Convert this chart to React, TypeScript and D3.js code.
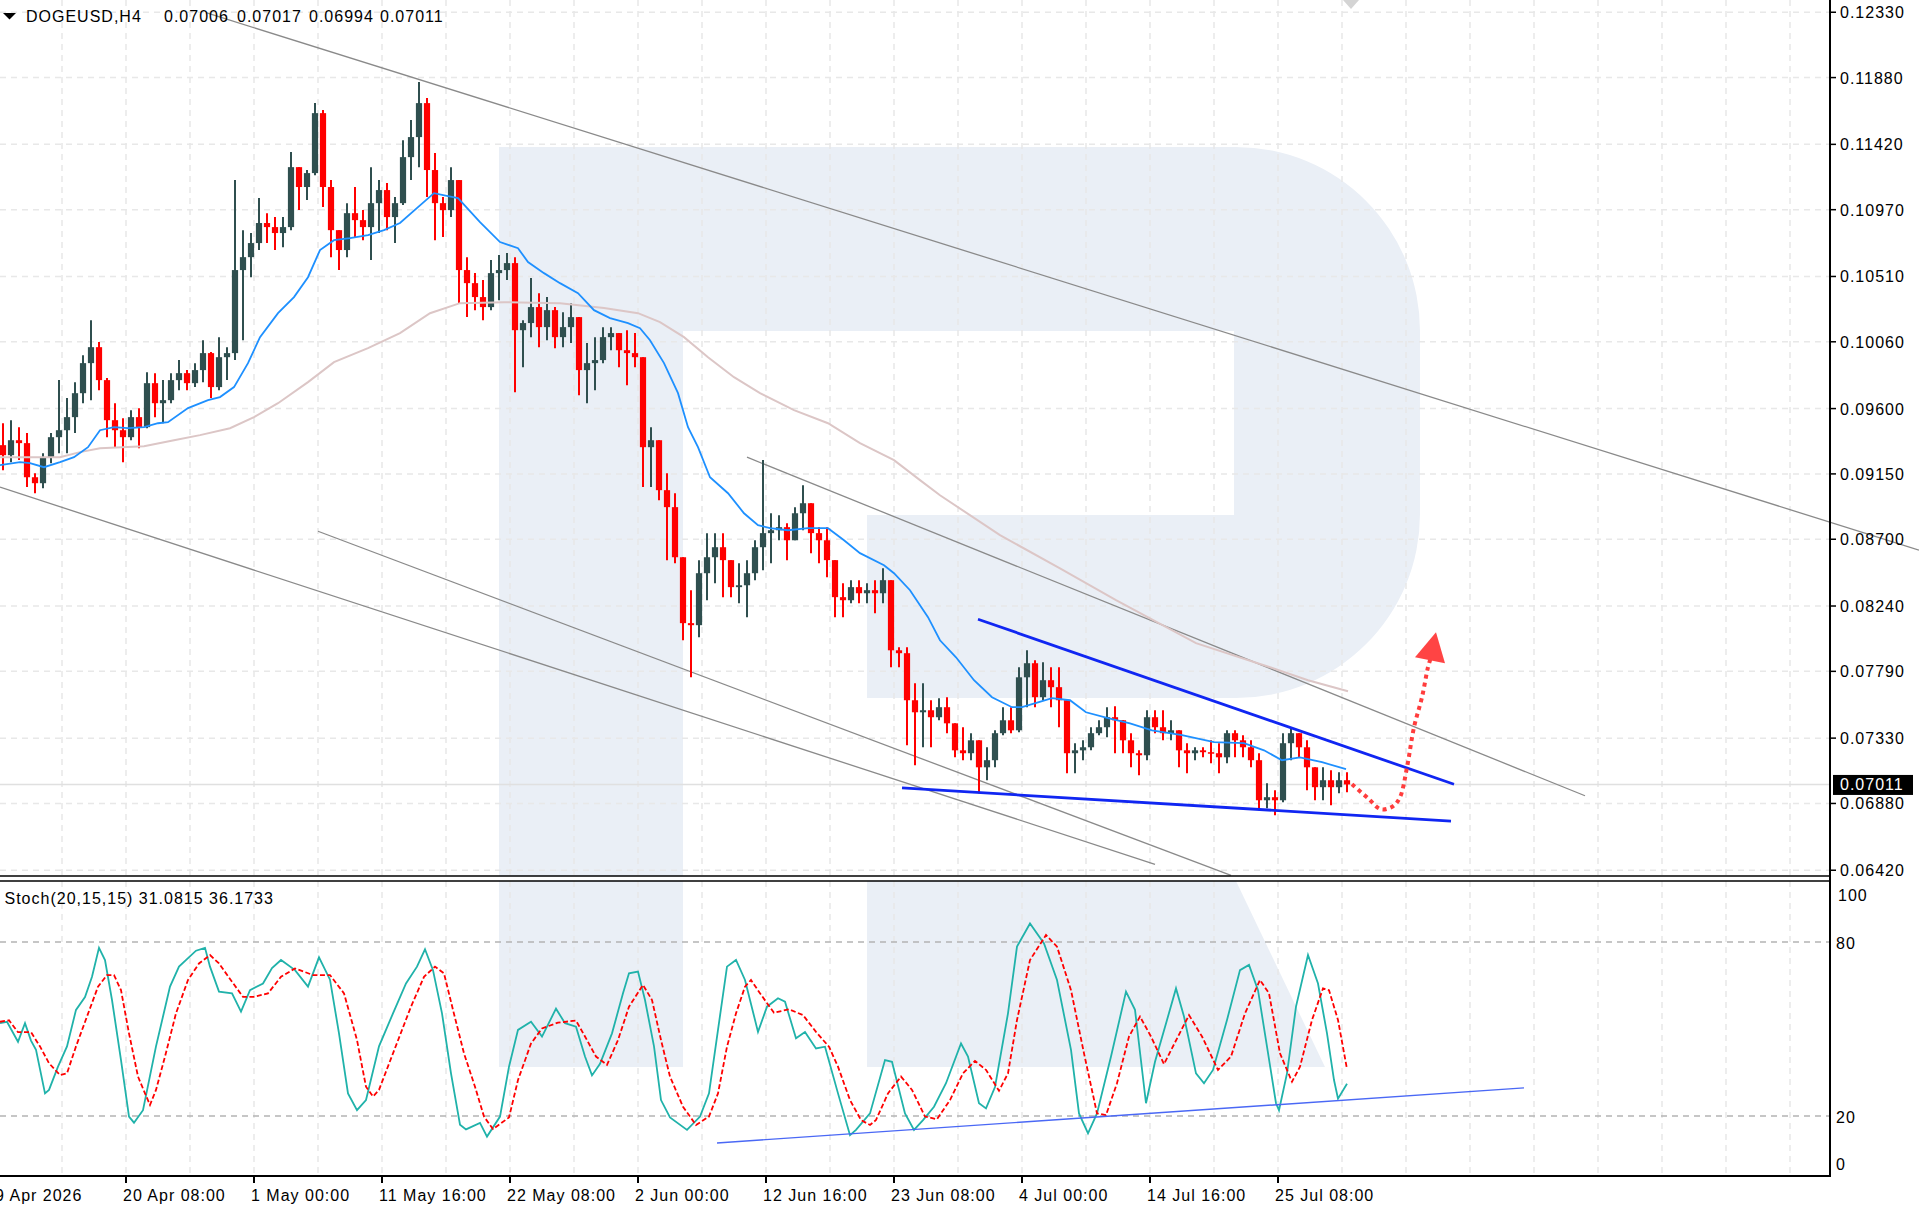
import React from "react";
import * as d3 from "d3";

// DOGEUSD H4. Prices are in points (1 point = 0.00001).
const POINT = 0.00001;

// every row merges 4 consecutive H4 bars: [open, high, low, close]
const CANDLE_SPAN = 4;
const candles: number[][] = [
  [9348, 9499, 9176, 9279], [9279, 9520, 9231, 9382], [9382, 9472, 9245, 9362], [9362, 9431, 9059, 9127],
  [9127, 9155, 9017, 9086], [9086, 9293, 9052, 9265], [9265, 9431, 9224, 9403], [9403, 9796, 9293, 9451],
  [9451, 9672, 9293, 9541], [9541, 9782, 9431, 9706], [9706, 9968, 9637, 9913], [9913, 10209, 9658, 10023],
  [10023, 10058, 9727, 9796], [9796, 9810, 9403, 9520], [9520, 9637, 9334, 9451], [9451, 9534, 9231, 9403],
  [9403, 9589, 9382, 9541], [9541, 9603, 9327, 9472], [9472, 9851, 9465, 9775], [9775, 9844, 9541, 9637],
  [9637, 9796, 9499, 9658], [9658, 9844, 9637, 9796], [9796, 9934, 9727, 9844], [9844, 9865, 9727, 9775],
  [9775, 9913, 9748, 9865], [9865, 10071, 9782, 9982], [9982, 9989, 9672, 9748], [9748, 10092, 9727, 9954],
  [9954, 10023, 9796, 9982], [9982, 11174, 9934, 10554], [10554, 10829, 10071, 10643], [10643, 10809, 10505, 10740],
  [10740, 11050, 10692, 10878], [10878, 10946, 10740, 10850], [10850, 10919, 10692, 10809], [10809, 10919, 10712, 10850],
  [10850, 11367, 10829, 11263], [11263, 11263, 10967, 11126], [11126, 11243, 11036, 11222], [11222, 11704, 11208, 11635],
  [11635, 11656, 10988, 11126], [11126, 11174, 10643, 10829], [10829, 10829, 10554, 10692], [10692, 11015, 10643, 10946],
  [10946, 11126, 10781, 10898], [10898, 10967, 10760, 10850], [10850, 11263, 10623, 11015], [11015, 11174, 10809, 11105],
  [11105, 11153, 10829, 10919], [10919, 11057, 10740, 11015], [11015, 11449, 11002, 11332], [11332, 11587, 11174, 11470],
  [11470, 11849, 11263, 11704], [11704, 11739, 11057, 11243], [11243, 11360, 10760, 11015], [11015, 11057, 10781, 10967],
  [10967, 11263, 10919, 11174], [11174, 11174, 10326, 10554], [10554, 10643, 10230, 10464], [10464, 10533, 10278, 10368],
  [10368, 10485, 10209, 10299], [10299, 10623, 10278, 10533], [10533, 10657, 10347, 10554], [10554, 10671, 10485, 10602],
  [10602, 10643, 9713, 10140], [10140, 10209, 9885, 10189], [10189, 10499, 10092, 10299], [10299, 10395, 10023, 10161],
  [10161, 10368, 10071, 10278], [10278, 10299, 10016, 10092], [10092, 10264, 10023, 10161], [10161, 10326, 10051, 10230],
  [10230, 10230, 9692, 9865], [9865, 10051, 9637, 9913], [9913, 10092, 9727, 9934], [9934, 10161, 9913, 10092],
  [10092, 10161, 10002, 10120], [10120, 10120, 9885, 10002], [10002, 10140, 9761, 9982], [9982, 10120, 9885, 9954],
  [9954, 9954, 9059, 9334], [9334, 9472, 9059, 9382], [9382, 9382, 8969, 9038], [9038, 9155, 8556, 8921],
  [8921, 9017, 8535, 8576], [8576, 8576, 8004, 8122], [8122, 8349, 7749, 8108], [8108, 8556, 8025, 8466],
  [8466, 8742, 8280, 8576], [8576, 8742, 8397, 8645], [8645, 8742, 8301, 8556], [8556, 8556, 8301, 8370],
  [8370, 8535, 8259, 8383], [8383, 8556, 8163, 8466], [8466, 8693, 8418, 8645], [8645, 9245, 8487, 8742],
  [8742, 8879, 8535, 8762], [8762, 8866, 8693, 8783], [8783, 8810, 8556, 8693], [8693, 8921, 8693, 8879],
  [8879, 9072, 8762, 8948], [8948, 8948, 8604, 8742], [8742, 8783, 8535, 8693], [8693, 8783, 8438, 8556],
  [8556, 8556, 8163, 8301], [8301, 8397, 8163, 8280], [8280, 8418, 8259, 8370], [8370, 8418, 8259, 8328],
  [8328, 8397, 8259, 8349], [8349, 8418, 8190, 8328], [8328, 8500, 8259, 8418], [8418, 8418, 7818, 7935],
  [7935, 7956, 7818, 7915], [7915, 7956, 7281, 7591], [7591, 7708, 7143, 7508], [7508, 7708, 7267, 7522],
  [7522, 7591, 7267, 7474], [7474, 7605, 7453, 7543], [7543, 7612, 7364, 7432], [7432, 7432, 7198, 7246],
  [7246, 7405, 7178, 7226], [7226, 7364, 7178, 7315], [7315, 7315, 6950, 7129], [7129, 7267, 7040, 7178],
  [7178, 7384, 7129, 7364], [7364, 7543, 7350, 7453], [7453, 7543, 7364, 7384], [7384, 7818, 7370, 7749],
  [7749, 7935, 7543, 7846], [7846, 7867, 7543, 7612], [7612, 7853, 7591, 7729], [7729, 7818, 7543, 7681],
  [7681, 7818, 7405, 7591], [7591, 7591, 7088, 7226], [7226, 7295, 7088, 7246], [7246, 7315, 7178, 7267],
  [7267, 7405, 7246, 7364], [7364, 7453, 7350, 7405], [7405, 7543, 7336, 7474], [7474, 7550, 7226, 7453],
  [7453, 7453, 7226, 7315], [7315, 7364, 7129, 7226], [7226, 7246, 7074, 7212], [7212, 7522, 7178, 7474],
  [7474, 7522, 7364, 7405], [7405, 7522, 7315, 7364], [7364, 7453, 7315, 7384], [7384, 7384, 7129, 7246],
  [7246, 7295, 7088, 7226], [7226, 7267, 7178, 7246], [7246, 7267, 7198, 7233], [7233, 7315, 7157, 7226],
  [7226, 7295, 7088, 7198], [7198, 7384, 7157, 7364], [7364, 7384, 7198, 7315], [7315, 7350, 7198, 7267],
  [7267, 7315, 7129, 7178], [7178, 7226, 6833, 6902], [6902, 7019, 6847, 6923], [6923, 6971, 6799, 6902],
  [6902, 7364, 6888, 7295], [7295, 7405, 7178, 7364], [7364, 7364, 7198, 7267], [7267, 7315, 6971, 7129],
  [7129, 7129, 6902, 6992], [6992, 7129, 6902, 7040], [7040, 7109, 6868, 6992], [6992, 7095, 6950, 7040],
  [7040, 7095, 6957, 7011],
];

// moving averages: [bar index, points]
const fastMa: number[][] = [
  [0, 9210], [10, 9231], [15, 9224], [22, 9196], [30, 9231], [37, 9265], [44, 9334], [50, 9451], [57, 9472],
  [64, 9465], [72, 9472], [79, 9499], [84, 9506], [94, 9603], [104, 9658], [110, 9679], [117, 9748], [124, 9913],
  [130, 10092], [139, 10257], [147, 10368], [154, 10505], [160, 10692], [167, 10760], [175, 10774], [184, 10795],
  [192, 10829], [200, 10878], [209, 10988], [217, 11084], [224, 11064], [229, 11050], [240, 10884], [250, 10747],
  [259, 10705], [264, 10609], [272, 10533], [280, 10464], [289, 10395], [297, 10278], [305, 10223], [314, 10189],
  [320, 10154], [325, 10071], [332, 9913], [339, 9706], [344, 9472], [349, 9334], [355, 9127], [364, 9017],
  [372, 8879], [379, 8797], [385, 8776], [394, 8762], [404, 8776], [414, 8776], [422, 8693], [430, 8604],
  [442, 8521], [447, 8466], [455, 8349], [464, 8163], [470, 8004], [478, 7887], [487, 7729], [496, 7612],
  [506, 7543], [511, 7543], [519, 7577], [526, 7605], [535, 7591], [543, 7508], [554, 7467], [565, 7432],
  [576, 7384], [591, 7350], [607, 7302], [622, 7295], [632, 7246], [641, 7178], [650, 7198], [661, 7164], [673, 7116],
];
const slowMa: number[][] = [
  [0, 9265], [30, 9265], [40, 9300], [50, 9327], [72, 9341], [87, 9382], [100, 9417], [115, 9465], [127, 9541],
  [139, 9637], [154, 9782], [167, 9920], [184, 10016], [200, 10120], [215, 10257], [230, 10326], [252, 10333],
  [280, 10326], [302, 10292], [319, 10257], [330, 10195], [342, 10092], [354, 9954], [367, 9816], [380, 9706],
  [397, 9589], [414, 9499], [430, 9362], [447, 9245], [460, 9107], [470, 9003], [500, 8728], [530, 8500],
  [558, 8280], [598, 7984], [635, 7818], [654, 7729], [674, 7653],
];

// stochastic (20,15,15): [bar index, value]
const stochMain: number[][] = [
  [0, 52], [3.5, 52.5], [9, 45.6], [12.5, 52], [15.5, 46], [18, 42.8], [22.5, 27.8], [24.5, 29], [29, 37],
  [33.5, 44], [38, 56.6], [42.5, 61], [46, 68], [49.5, 78], [52.5, 73.8], [56, 60], [60.5, 39.3], [64.5, 19.8],
  [67, 17.7], [71.5, 22], [78, 44], [85, 64.6], [89.5, 71.5], [98, 77], [102.5, 78], [105, 71.5], [109.5, 62.9],
  [116, 62.3], [120.5, 56], [125, 63.4], [131.5, 65.7], [136, 71], [140.5, 73.8], [147.5, 70.3], [154, 64.6],
  [159.5, 74.7], [165, 67], [169.5, 48.5], [174, 27.8], [178.5, 22], [183, 25.5], [189.5, 44], [196.5, 55.4],
  [203, 65.7], [208.5, 71.5], [212.5, 77.5], [216.5, 70.3], [221, 55.4], [225.5, 34.7], [230, 17], [233, 15.4],
  [240, 17.6], [243.5, 12.9], [250, 19.8], [254.5, 37], [259, 49.7], [265.5, 52.5], [271, 47.4], [278, 57],
  [282.5, 52], [288, 50.8], [292.5, 40.5], [296, 34], [300, 38], [306, 48.5], [311.5, 62.3], [314.5, 69.2],
  [319, 69.8], [322.5, 60], [327, 44], [330.5, 25.5], [335, 19.5], [343.5, 15.2], [350, 19.8], [354.5, 27.8],
  [359, 49.7], [363.5, 71.5], [368, 73.8], [372.5, 66.9], [379, 49], [383.5, 57.7], [389, 60.6], [392.5, 59.4],
  [398, 46.8], [402.5, 49], [408, 43.3], [412.5, 43.9], [419, 27.8], [425, 13.4], [428, 15.2], [435, 20.9],
  [442.5, 39.3], [446, 38.7], [452.5, 20.9], [457, 15.2], [461.5, 18.6], [467, 23.2], [473, 31.3], [480.5, 45],
  [484, 40.5], [489.5, 24.4], [493, 22.6], [497.5, 30], [504, 55.4], [508.5, 78.4], [515, 86.4], [522, 79.5],
  [528.5, 66.9], [535.5, 42.8], [539.5, 20.9], [544, 14], [548.5, 20.9], [555.5, 40.5], [563, 62.9],
  [567.5, 56.6], [573, 24.4], [577.5, 38.7], [583.5, 53.1], [588, 64], [592, 54.3], [598, 34.7], [602, 31.3],
  [606.5, 35.9], [613.5, 53.1], [620, 70.3], [624.5, 72.1], [629, 63.4], [633.5, 43.9], [638, 24.4], [639.5, 22],
  [643.5, 34.7], [648, 57.7], [654, 75.5], [659, 65.7], [663.5, 48.5], [667, 32.4], [669, 26], [673.5, 31.1],
];
const stochSignal: number[][] = [
  [0, 52.5], [4.5, 53], [9, 48.9], [15.5, 48.9], [20, 44], [24.5, 38.2], [30, 34.1], [33.5, 34.7], [38, 44],
  [43.5, 54.3], [49, 64.6], [53.5, 68.6], [57, 68.6], [60.5, 63.4], [64.5, 48.5], [69, 33.6], [72.5, 27.8],
  [75, 23.8], [78, 29], [82.5, 40.5], [88, 55.4], [94, 66.9], [99.5, 72.6], [105, 75.5], [109.5, 72.6],
  [116, 66.3], [121.5, 61.1], [127, 61.1], [134, 62.3], [140.5, 68], [147.5, 70.9], [156.5, 68.6], [165, 68.6],
  [172, 62.3], [178.5, 46.2], [183, 30.1], [186.5, 26.7], [189.5, 29], [196.5, 41.6], [205.5, 57.7], [212, 68],
  [217.5, 71.5], [222, 69.2], [226.5, 56.6], [232, 41.6], [237.5, 30.1], [242, 19.8], [246.5, 15.5],
  [254.5, 19.5], [259, 32.4], [265.5, 45], [271, 50.2], [279, 52.2], [288, 52.9], [292.5, 47.4], [298, 40.5],
  [303.5, 37.6], [309, 46.2], [314.5, 57.7], [321.5, 65.2], [326, 60], [330.5, 46.2], [335, 33.6], [341.5, 23.2],
  [348, 16.9], [354.5, 19.8], [359, 27.8], [363.5, 43.9], [368, 55.4], [372.5, 64.6], [375.5, 66.9], [380, 62.3],
  [387, 55.6], [394.5, 56.8], [401.5, 54.8], [408, 49], [414.5, 43.9], [419, 37], [425, 25.5], [430.5, 18.6],
  [435, 16.9], [438, 18.6], [444, 27.8], [450.5, 33.6], [456, 29], [462.5, 19.8], [468.5, 18.9], [475, 25.5],
  [481.5, 34.7], [487.5, 39], [493, 35.9], [499.5, 28.7], [504, 34.7], [508.5, 53.1], [515, 73.8], [523, 82.4],
  [528.5, 78.4], [535.5, 63.4], [542, 41.6], [548.5, 20.9], [553, 20.3], [558.5, 31.3], [564.5, 47.4],
  [570, 54.3], [575.5, 47.4], [582, 37.9], [589, 47.4], [594.5, 54.8], [601, 47.4], [609, 35.9], [615.5, 40.5],
  [622.5, 55.4], [630, 66.9], [634.5, 62.3], [640, 41.6], [646, 31.8], [650, 37], [656, 53.1], [661.5, 64],
  [664.5, 63.4], [669, 53.1], [673.5, 36.2],
];

// drawn objects, endpoints as [bar index, points]
const grayLines: number[][][] = [
  [[103, 12327], [959.5, 8625]],
  [[0, 9059], [577.5, 6461]],
  [[159, 8755], [615.5, 6385]],
  [[373.5, 9265], [792.5, 6933]],
];
const wedgeLines: number[][][] = [
  [[489, 8149], [727, 7012]],
  [[451, 6987], [725.5, 6759]],
];
const stochTrend: number[][] = [[358.5, 10.7], [762, 29.7]];
const forecastPath: number[][] = [
  [676, 7012], [684, 6916], [690.5, 6840], [696.5, 6861], [700, 6923], [703.5, 7129],
  [707, 7405], [711, 7612], [714, 7818], [715.5, 7887],
];
const forecastHead: number[][] = [[718, 8060], [707.5, 7887], [722.5, 7846]];

const priceTicks = [0.1233, 0.1188, 0.1142, 0.1097, 0.1051, 0.1006, 0.096, 0.0915, 0.087, 0.0824, 0.0779, 0.0733, 0.0688, 0.0642];
const timeTickBars = [-1, 63, 127, 191, 255, 319, 383, 447, 511, 575, 639];
const timeTickLabels = [
  "9 Apr 2026", "20 Apr 08:00", "1 May 00:00", "11 May 16:00", "22 May 08:00", "2 Jun 00:00",
  "12 Jun 16:00", "23 Jun 08:00", "4 Jul 00:00", "14 Jul 16:00", "25 Jul 08:00",
];
const stochLevels = [80, 20];
const stochScaleLabels = [100, 80, 20, 0];
const lastPrice = 0.07011;
const headerParts = ["DOGEUSD,H4", "0.07006", "0.07017", "0.06994", "0.07011"];
const stochTitle = "Stoch(20,15,15) 31.0815 36.1733";

const W = 1919;
const H = 1214;
const AXIS_X = 1830;
const MAIN_BOTTOM = 876;
const SUB_TOP = 881;
const SUB_BOTTOM = 1176;
const FONT = "'Liberation Sans', Arial, sans-serif";
const BULL = "#2f4f4f";
const BEAR = "#ff0000";

export default function App() {
  const x = d3.scaleLinear().domain([0, 915]).range([0, AXIS_X]);
  const y = d3.scaleLinear().domain([0.0642, 0.1233]).range([870.24, 12.24]);
  const ys = d3.scaleLinear().domain([0, 100]).range([1174, 884]);
  const fmt = d3.format(".5f");

  const priceLine = d3.line<number[]>().x((d) => x(d[0])).y((d) => y(d[1] * POINT));
  const stochLine = d3.line<number[]>().x((d) => x(d[0])).y((d) => ys(d[1]));
  const forecastLine = d3
    .line<number[]>()
    .x((d) => x(d[0]))
    .y((d) => y(d[1] * POINT))
    .curve(d3.curveCatmullRom);

  // vertical grid every 32 bars
  const gridBars = d3.range(-1, 915, 32);

  return (
    <svg
      width={W}
      height={H}
      style={{ position: "absolute", left: 0, top: 0, background: "#fff", display: "block" }}
      fontFamily={FONT}
    >
      <defs>
        <clipPath id="mainClip">
          <rect x={0} y={0} width={W} height={MAIN_BOTTOM} />
        </clipPath>
        <clipPath id="subClip">
          <rect x={0} y={SUB_TOP} width={AXIS_X} height={SUB_BOTTOM - SUB_TOP} />
        </clipPath>
      </defs>
      <rect x={0} y={0} width={W} height={H} fill="#fff" />

      {/* watermark logo */}
      <g fill="#eaeff6">
        <path d="M499,147 H1236 A184,184 0 0 1 1420,331 V514 A184,184 0 0 1 1236,698 H867 V515 H1234 V331 H683 V876 H499 Z" />
        <rect x={499} y={SUB_TOP} width={184} height={186} />
        <path d="M867,881 H1236 L1325,1067 H867 Z" />
      </g>

      {/* grid */}
      <g stroke="#e8e8e8" strokeWidth={1.5} strokeDasharray="6 5">
        {gridBars.map((b) => (
          <line key={"vm" + b} x1={x(b)} x2={x(b)} y1={0} y2={MAIN_BOTTOM} />
        ))}
        {gridBars.map((b) => (
          <line key={"vs" + b} x1={x(b)} x2={x(b)} y1={SUB_TOP} y2={SUB_BOTTOM} />
        ))}
        {priceTicks.map((p) => (
          <line key={"h" + p} x1={0} x2={AXIS_X} y1={y(p)} y2={y(p)} />
        ))}
      </g>
      <g stroke="#b4b4b4" strokeWidth={1.6} strokeDasharray="6 5">
        {stochLevels.map((v) => (
          <line key={v} x1={0} x2={AXIS_X} y1={ys(v)} y2={ys(v)} />
        ))}
      </g>

      {/* last price line */}
      <line x1={0} x2={AXIS_X} y1={y(lastPrice)} y2={y(lastPrice)} stroke="#e0e0e0" strokeWidth={1.5} />

      {/* trend lines */}
      <g clipPath="url(#mainClip)" fill="none">
        {grayLines.map((l, i) => (
          <path key={i} d={priceLine(l) || ""} stroke="#8a8a8a" strokeWidth={1.3} />
        ))}
      </g>

      {/* candles */}
      <g>
        {candles.map((c, i) => {
          const [o, hi, lo, cl] = c;
          const xc = x(i * CANDLE_SPAN + 1.5);
          const col = cl >= o ? BULL : BEAR;
          const top = y(Math.max(o, cl) * POINT);
          const bot = y(Math.min(o, cl) * POINT);
          return (
            <g key={i}>
              <line x1={xc} x2={xc} y1={y(hi * POINT)} y2={y(lo * POINT)} stroke={col} strokeWidth={2} />
              <rect x={xc - 3.1} y={top} width={6.2} height={Math.max(1.5, bot - top)} fill={col} />
            </g>
          );
        })}
      </g>

      {/* moving averages */}
      <path d={priceLine(slowMa) || ""} fill="none" stroke="#dcc6c6" strokeWidth={2} />
      <path d={priceLine(fastMa) || ""} fill="none" stroke="#1e90ff" strokeWidth={1.8} />

      {/* wedge */}
      <g fill="none" stroke="#1026f2" strokeWidth={2.8}>
        {wedgeLines.map((l, i) => (
          <path key={i} d={priceLine(l) || ""} />
        ))}
      </g>

      {/* forecast arrow */}
      <path
        d={forecastLine(forecastPath) || ""}
        fill="none"
        stroke="#ff3d3d"
        strokeWidth={4}
        strokeDasharray="4 4"
      />
      <polygon
        points={forecastHead.map((d) => `${x(d[0])},${y(d[1] * POINT)}`).join(" ")}
        fill="#ff4444"
      />

      {/* stochastic */}
      <g clipPath="url(#subClip)" fill="none">
        <path d={stochLine(stochMain) || ""} stroke="#20b2aa" strokeWidth={1.8} />
        <path d={stochLine(stochSignal) || ""} stroke="#ff0000" strokeWidth={1.8} strokeDasharray="5 2.5" />
      </g>
      <path d={stochLine(stochTrend) || ""} fill="none" stroke="#4a68f5" strokeWidth={1.4} />

      {/* panel frames */}
      <g stroke="#000">
        <line x1={0} x2={AXIS_X} y1={MAIN_BOTTOM} y2={MAIN_BOTTOM} strokeWidth={1.7} />
        <line x1={0} x2={AXIS_X} y1={SUB_TOP} y2={SUB_TOP} strokeWidth={1.7} />
        <line x1={0} x2={AXIS_X + 1} y1={SUB_BOTTOM} y2={SUB_BOTTOM} strokeWidth={2} />
        <line x1={AXIS_X} x2={AXIS_X} y1={0} y2={SUB_BOTTOM} strokeWidth={2} />
        {priceTicks.map((p) => (
          <line key={p} x1={AXIS_X} x2={AXIS_X + 6} y1={y(p)} y2={y(p)} strokeWidth={1.5} />
        ))}
        {timeTickBars.map((b) => (
          <line key={b} x1={x(b)} x2={x(b)} y1={SUB_BOTTOM} y2={SUB_BOTTOM + 7} strokeWidth={2} />
        ))}
      </g>

      {/* mt4 chart shift marker */}
      <polygon points="1343,0 1359,0 1351,9" fill="#d4d4d4" />

      {/* texts */}
      <g fontSize={16} letterSpacing={1} fill="#000">
        <polygon points="3,13 16,13 9.5,19.5" fill="#000" />
        {headerParts.map((t, i) => (
          <text key={t + i} x={[26, 164, 237, 309, 380][i]} y={21.5}>
            {t}
          </text>
        ))}
        <text x={4.5} y={904}>{stochTitle}</text>
        {priceTicks.map((p) => (
          <text key={p} x={1840} y={y(p) + 6}>
            {fmt(p)}
          </text>
        ))}
        {stochScaleLabels.map((v) => (
          <text key={v} x={v === 100 ? 1838 : 1836} y={v === 100 ? 901 : v === 0 ? 1170 : ys(v) + 7}>
            {v}
          </text>
        ))}
        {timeTickBars.map((b, i) => (
          <text key={b} x={x(b) - 3} y={1201}>
            {timeTickLabels[i]}
          </text>
        ))}
        <rect x={1833} y={y(lastPrice) - 9.5} width={80} height={20} fill="#000" />
        <text x={1840} y={y(lastPrice) + 6} fill="#fff">
          {fmt(lastPrice)}
        </text>
      </g>
    </svg>
  );
}
